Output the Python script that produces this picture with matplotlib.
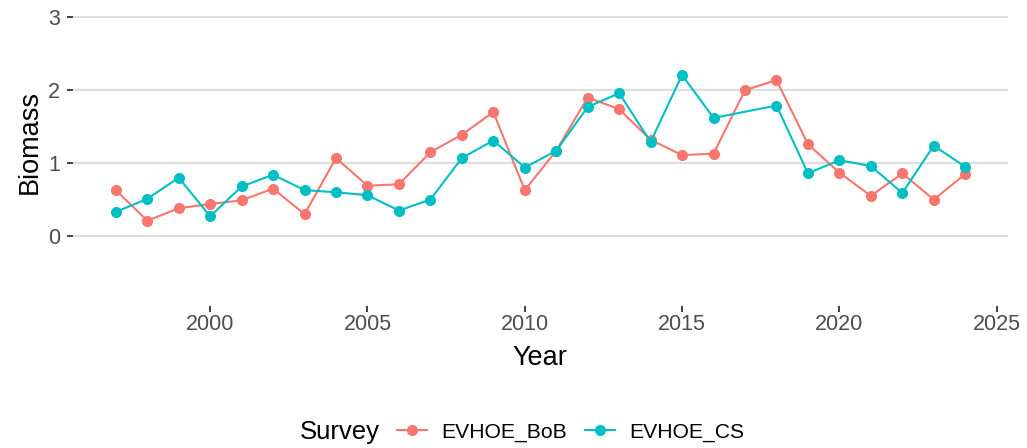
import matplotlib
matplotlib.use("Agg")
import matplotlib.pyplot as plt
import numpy as np
from matplotlib.lines import Line2D

plt.rcParams['font.family'] = ['Liberation Sans', 'DejaVu Sans']

years_bob = [1997, 1998, 1999, 2000, 2001, 2002, 2003, 2004, 2005, 2006, 2007, 2008, 2009, 2010,
             2011, 2012, 2013, 2014, 2015, 2016, 2017, 2018, 2019, 2020, 2021, 2022, 2023, 2024]
biomass_bob = [0.63, 0.21, 0.38, 0.44, 0.49, 0.65, 0.30, 1.07, 0.69, 0.71, 1.15, 1.39, 1.70, 0.63,
               1.17, 1.90, 1.74, 1.32, 1.11, 1.13, 2.00, 2.14, 1.26, 0.87, 0.55, 0.86, 0.50, 0.85]

years_cs = [1997, 1998, 1999, 2000, 2001, 2002, 2003, 2004, 2005, 2006, 2007, 2008, 2009, 2010,
            2011, 2012, 2013, 2014, 2015, 2016, 2018, 2019, 2020, 2021, 2022, 2023, 2024]
biomass_cs = [0.33, 0.51, 0.80, 0.27, 0.68, 0.84, 0.63, 0.60, 0.56, 0.35, 0.50, 1.07, 1.31, 0.94,
              1.17, 1.77, 1.96, 1.29, 2.21, 1.62, 1.79, 0.86, 1.04, 0.96, 0.59, 1.24, 0.95]

surveys = ["EVHOE_BoB", "EVHOE_CS"]
colors = ["#F8766D", "#00BFC4"]
x_ticks = [2000, 2005, 2010, 2015, 2020, 2025]
y_ticks = [0, 1, 2, 3]

W, H = 1027, 448
fig = plt.figure(figsize=(W / 100, H / 100), dpi=100)
left, right, top, bottom = 72.7, 1007.7, 3.5, 306
ax = fig.add_axes([left / W, 1 - bottom / H, (right - left) / W, (bottom - top) / H])

series = [(years_bob, biomass_bob), (years_cs, biomass_cs)]
for (xs, ys), name, c in zip(series, surveys, colors):
    ax.plot(xs, ys, color=c, lw=1.5, marker='o', markersize=8, markeredgewidth=0, label=name)

ax.set_xlim(1995.63, 2025.35)
ax.set_ylim(-0.96, 3.19)
ax.set_xticks(x_ticks)
ax.set_yticks(y_ticks)
ax.set_xticklabels([str(v) for v in x_ticks])
ax.set_yticklabels([str(v) for v in y_ticks])
ax.tick_params(axis='both', colors='#333333', labelcolor='#4D4D4D', labelsize=15.5,
               length=4, width=1.3)
ax.tick_params(axis='x', pad=2)
ax.tick_params(axis='y', pad=5)
ax.grid(axis='y', color='#DEDEDE', lw=1.6)
ax.grid(axis='x', visible=False)
ax.set_axisbelow(True)
for s in ax.spines.values():
    s.set_visible(False)

ax.set_xlabel("Year", fontsize=19.5, color='black', labelpad=7)
ax.set_ylabel("Biomass", fontsize=19.5, color='black')
ax.yaxis.set_label_coords((43 - left) / (right - left), (bottom - 141.5) / (bottom - top))

fig.text(300 / W, 1 - 432 / H, "Survey", fontsize=18.5, ha='left', va='center')
handles = [Line2D([0], [0], color=c, lw=1.5, marker='o', markersize=8, markeredgewidth=0)
           for c in colors]
fig.legend(handles, surveys, loc='center left', bbox_to_anchor=(397 / W, 1 - 432 / H),
           ncol=2, frameon=False, fontsize=15.2, handlelength=1.4, handletextpad=0.7,
           columnspacing=0.85, borderaxespad=0, borderpad=0)

fig.savefig("out.png", dpi=100)
